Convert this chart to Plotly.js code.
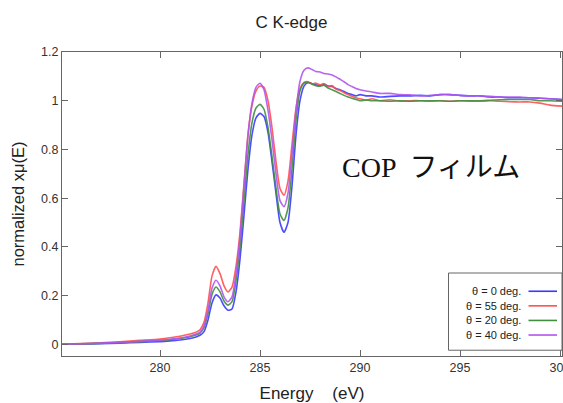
<!DOCTYPE html>
<html>
<head>
<meta charset="utf-8">
<script src="https://cdn.plot.ly/plotly-3.0.1.min.js"></script>
<style>html,body{margin:0;padding:0;background:#fff;}#chart{width:563px;height:403px;}</style>
</head>
<body>
<div id="chart"></div>
<script>
const energy = [275.1,276,277,278,279,280,280.5,281,281.5,281.8,282.0,282.2,282.4,282.6,282.8,283.0,283.2,283.4,283.6,283.8,284.0,284.2,284.4,284.6,284.8,285.0,285.2,285.4,285.6,285.8,286.0,286.2,286.4,286.6,286.8,287.0,287.2,287.4,287.6,287.8,288.0,288.2,288.4,288.6,288.8,289.0,289.2,289.4,289.6,289.8,290.0,290.3,290.6,291.0,291.5,292,292.5,293,293.5,294,294.5,295,295.5,296,296.5,297,297.5,298,298.5,299,299.5,300.1];

const mu0 = [0.000,0.001,0.003,0.005,0.008,0.011,0.014,0.018,0.024,0.030, 0.037,0.052,0.100,0.170,0.203,0.190,0.158,0.140,0.145,0.215, 0.350,0.530,0.720,0.860,0.930,0.948,0.935,0.870,0.750,0.620, 0.500,0.460,0.500,0.650,0.860,1.000,1.060,1.075,1.070,1.065, 1.062,1.068,1.060,1.058,1.050,1.045,1.038,1.030,1.025,1.020, 1.025,1.020,1.020,1.015,1.018,1.020,1.020,1.022,1.020,1.025, 1.025,1.022,1.020,1.020,1.015,1.015,1.012,1.012,1.012,1.010, 1.008,1.005];

const mu55 = [0.000,0.003,0.006,0.010,0.016,0.022,0.027,0.033,0.042,0.050, 0.060,0.090,0.170,0.280,0.320,0.290,0.240,0.215,0.235,0.320, 0.460,0.660,0.860,0.980,1.040,1.060,1.055,1.000,0.890,0.750, 0.640,0.612,0.670,0.820,0.970,1.050,1.075,1.078,1.070,1.072, 1.065,1.070,1.058,1.062,1.048,1.042,1.033,1.025,1.018,1.012, 1.008,1.003,1.008,1.000,1.004,0.998,1.000,1.000,0.998,1.000, 0.998,1.000,0.998,0.998,1.000,0.998,0.996,0.995,0.995,0.990, 0.982,0.978];

const mu20 = [0.000,0.002,0.004,0.007,0.011,0.015,0.019,0.024,0.031,0.038, 0.046,0.068,0.125,0.205,0.235,0.215,0.178,0.161,0.175,0.260, 0.400,0.590,0.780,0.910,0.970,0.985,0.965,0.890,0.770,0.640, 0.535,0.508,0.560,0.720,0.920,1.040,1.072,1.075,1.068,1.062, 1.060,1.064,1.052,1.045,1.038,1.030,1.022,1.015,1.010,1.005, 1.000,1.003,1.000,1.000,0.998,1.000,0.998,1.000,1.000,1.000, 0.998,1.000,1.000,1.000,1.002,1.004,1.005,1.005,1.005,1.000, 1.000,0.998];

const mu40 = [0.000,0.002,0.005,0.008,0.012,0.017,0.021,0.026,0.034,0.042, 0.050,0.075,0.140,0.230,0.263,0.240,0.195,0.175,0.195,0.290, 0.440,0.650,0.860,0.990,1.055,1.072,1.045,0.960,0.840,0.700, 0.590,0.565,0.620,0.780,0.960,1.080,1.125,1.135,1.128,1.120, 1.118,1.112,1.110,1.106,1.098,1.088,1.078,1.066,1.058,1.050, 1.045,1.040,1.036,1.030,1.030,1.025,1.024,1.020,1.022,1.025, 1.025,1.022,1.020,1.020,1.018,1.015,1.015,1.015,1.012,1.010, 1.008,1.005];

const seriesNames = ["θ = 0 deg.", "θ = 55 deg.", "θ = 20 deg.", "θ = 40 deg."];
const seriesValues = [mu0, mu55, mu20, mu40];
const seriesColors = ["#3a3aff", "#ff5050", "#3f8f3f", "#b055ee"];
const xTicks = [280, 285, 290, 295, 300];
const yTicks = [0, 0.2, 0.4, 0.6, 0.8, 1, 1.2];
const yTickText = ["0", "0.2", "0.4", "0.6", "0.8", "1", "1.2"];

const traces = seriesValues.map((v, i) => ({
  x: energy, y: v, type: "scatter", mode: "lines", name: seriesNames[i],
  line: {color: seriesColors[i], width: 1.6, shape: "spline", smoothing: 0.6},
  opacity: 0.9, showlegend: false
}));

// custom legend (text then line sample), paper coordinates
const shapes = [{
  type: "rect", xref: "paper", yref: "paper", x0: 0.773, x1: 1.0, y0: 0.019, y1: 0.273,
  line: {color: "#666", width: 1}, fillcolor: "#fff", layer: "above"
}];
const annotations = [];
const rowY = [0.213, 0.165, 0.117, 0.069];
seriesNames.forEach((n, i) => {
  annotations.push({xref: "paper", yref: "paper", x: 0.922, y: rowY[i], text: n, showarrow: false,
    xanchor: "right", yanchor: "middle", font: {family: "Liberation Sans, Arial", size: 11, color: "#222"}});
  shapes.push({type: "line", xref: "paper", yref: "paper", x0: 0.933, x1: 0.990, y0: rowY[i], y1: rowY[i],
    line: {color: seriesColors[i], width: 1.6}, layer: "above"});
});
annotations.push({xref: "paper", yref: "paper", x: 0.737, y: 0.62, text: "COP  フィルム", showarrow: false,
  xanchor: "center", yanchor: "middle", font: {family: "Liberation Serif, Noto Sans CJK JP", size: 28, color: "#111"}});

const axisCommon = {
  showline: true, mirror: "ticks", linecolor: "#666", linewidth: 1,
  ticks: "inside", ticklen: 6, tickcolor: "#666", showgrid: false, zeroline: false,
  ticklabeloverflow: "allow",
  tickfont: {family: "Liberation Sans, Arial", size: 12.5, color: "#333"}
};

const layout = {
  width: 563, height: 403,
  margin: {l: 62, r: 1, t: 52, b: 47, pad: 0},
  paper_bgcolor: "#fff", plot_bgcolor: "#fff",
  title: {text: "C K-edge", x: 291.5/563, xanchor: "center", xref: "container", y: 1 - 22/403, yanchor: "middle", yref: "container",
    font: {family: "Liberation Sans, Arial", size: 17, color: "#222"}},
  xaxis: Object.assign({}, axisCommon, {range: [275.1, 300.1], tickvals: xTicks,
    title: {text: "Energy    (eV)", standoff: 13, font: {family: "Liberation Sans, Arial", size: 17, color: "#222"}}}),
  yaxis: Object.assign({}, axisCommon, {range: [-0.048, 1.2], tickvals: yTicks, ticktext: yTickText,
    title: {text: "normalized xμ(E)", standoff: 12, font: {family: "Liberation Sans, Arial", size: 16.5, color: "#222"}}}),
  shapes: shapes, annotations: annotations, showlegend: false
};

Plotly.newPlot("chart", traces, layout, {displayModeBar: false, staticPlot: true});
</script>
</body>
</html>
